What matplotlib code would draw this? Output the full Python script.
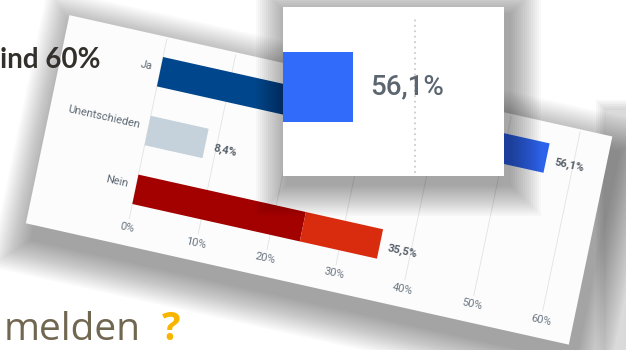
import matplotlib
matplotlib.use("Agg")
import matplotlib.pyplot as plt
import numpy as np
from matplotlib.patches import Rectangle
from matplotlib.transforms import Affine2D

# poll result shown as a tilted screenshot with a zoomed inset
categories = ["Ja", "Unentschieden", "Nein"]
values = [56.1, 8.4, 35.5]
dark_part = [40.0, 8.4, 24.3]
ticks = [0, 10, 20, 30, 40, 50, 60]

dark_colors = ["#00468c", "#c5d1db", "#a30000"]
light_colors = ["#2c63ea", "#c5d1db", "#d92b0e"]

W, H = 626, 350


def pct(v):
    return f"{v:.1f}".replace(".", ",") + "%"


fig = plt.figure(figsize=(W / 100, H / 100), dpi=100)
bg = fig.add_axes([0, 0, 1, 1])
bg.axis("off")

# percent / category index -> pixel coords of the tilted card
tilt = Affine2D(np.array([[6.89, -12.3, 160.0], [1.54, 58.8, 71.7], [0, 0, 1]]))
chart = tilt + bg.transData
ANGLE = -np.degrees(np.arctan2(1.54, 6.89))


def shadow(x0, y0, w, h, base, sx, sy, dx, dy, n=14, alpha=0.028, z=1):
    tf = base + Affine2D().translate(dx, dy) + bg.transData
    for k in range(1, n + 1):
        bg.add_patch(Rectangle((x0 - k * sx, y0 - k * sy), w + 2 * k * sx, h + 2 * k * sy,
                               transform=tf, facecolor="black", alpha=alpha, lw=0, zorder=z))


# grey panel at the right edge
shadow(606, 110, 60, 260, Affine2D(), 2, 2, 0, 0, n=5, alpha=0.03, z=0.5)
bg.add_patch(Rectangle((606, 110), 60, 260, facecolor="#dadada", lw=0, zorder=0.6))

# card + its shadow
shadow(-14.2, -0.59, 78.8, 3.54, tilt, 0.255, 0.030, 6, 16, n=20, alpha=0.02, z=1)
bg.add_patch(Rectangle((-14.2, -0.59), 78.8, 3.54, transform=chart,
                       facecolor="#fcfcfc", lw=0, zorder=1.5))

for t in ticks:
    bg.plot([t, t], [-0.55, 2.5], transform=chart, color="#e2e2e2", lw=0.6, zorder=2)
    bg.text(t, 2.65, f"{t}%", transform=chart, rotation=ANGLE, rotation_mode="anchor",
            ha="center", va="center", fontsize=8, color="#6b7682", family="Roboto", zorder=4)

idx = np.arange(len(categories))
light_part = [v - d for v, d in zip(values, dark_part)]
bg.barh(idx, dark_part, height=0.5, color=dark_colors, transform=chart, zorder=3)
bg.barh(idx, light_part, left=dark_part, height=0.5, color=light_colors, transform=chart, zorder=3)

for i, (cat, v) in enumerate(zip(categories, values)):
    bg.text(-1.2, i - 0.06, cat, transform=chart, rotation=ANGLE, rotation_mode="anchor",
            ha="right", va="center", fontsize=8, color="#5d6873", family="Roboto", zorder=4)
    bg.text(v + 1.2, i + 0.04, pct(v), transform=chart, rotation=ANGLE, rotation_mode="anchor",
            ha="left", va="center", fontsize=8, fontweight="bold", color="#56606a",
            family="Roboto", zorder=4)

# zoomed inset on the "Ja" bar
shadow(283, 7, 221, 169, Affine2D(), 2, 2, 5, 8, n=16, alpha=0.024, z=5)
ax_in = fig.add_axes([283 / W, 1 - 176 / H, 221 / W, 169 / H])
ax_in.barh([0], [values[0]], height=0.414, color="#316bfa")
ax_in.axvline(60, ymin=0.02, ymax=0.94, color="#cccccc", ls=(0, (1, 2)), lw=1.3)
ax_in.text(57.2, 0, pct(values[0]), ha="left", va="center", fontsize=20,
           color="#5c6670", family="Roboto", fontweight="medium")
ax_in.set_xlim(51.7, 65.6)
ax_in.set_ylim(-0.527, 0.473)
ax_in.set_xticks([])
ax_in.set_yticks([])
for s in ax_in.spines.values():
    s.set_visible(False)
ax_in.set_facecolor("white")

# slide text around the screenshot
bg.text(0, 68, "ind 60%", fontsize=20, fontweight="bold", family="Lato",
        color="#33302c", va="baseline", ha="left", zorder=6)
bg.text(4, 340, "melden", fontsize=28, family="Open Sans", color="#716650",
        va="baseline", ha="left", zorder=6)
bg.text(162, 340, "?", fontsize=28, fontweight="bold", family="Open Sans",
        color="#f7b500", va="baseline", ha="left", zorder=6)

bg.set_xlim(0, W)
bg.set_ylim(H, 0)

fig.savefig("out.png", dpi=100)
